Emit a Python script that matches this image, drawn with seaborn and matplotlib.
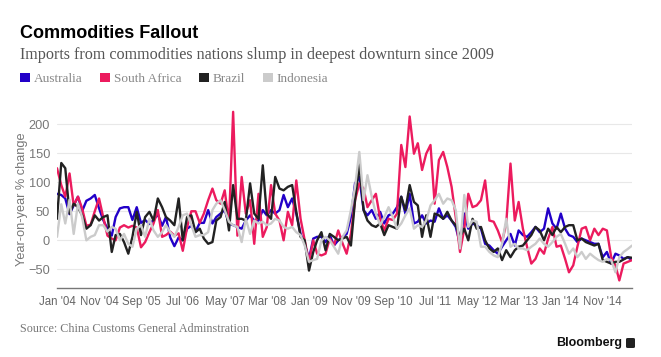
import numpy as np
import pandas as pd
import matplotlib.pyplot as plt
import matplotlib.patches as mpatches
import seaborn as sns

# monthly year-on-year % change of China's imports, Jan 2004 - Jun 2015
months = pd.date_range("2004-01-01", periods=138, freq="MS")

australia = [80, 78, 72, 45, 60, 75, 50, 68, 72, 78,
             55, 35, 20, 8, 40, 55, 57, 57, 35, 57,
             30, 35, 28, 35, 45, 25, 40, 5, -10, 5,
             0, 20, 25, 15, 30, 30, 52, 29, 40, 46,
             52, 29, 26, 23, 20, 34, 43, 34, 34, 52,
             43, 52, 46, 52, 78, 57, 72, 46, 11, -6,
             -32, 3, 6, 6, -3, 9, -9, 0, 6, 11,
             40, 98, 109, 52, 43, 52, 37, 49, 29, 43,
             46, 57, 75, 46, 80, 29, 32, 43, 29, 34,
             32, 55, 37, 43, 34, 23, -6, 46, 20, 29,
             26, 20, -6, -9, -17, -23, -11, 0, 11, -9,
             17, 9, 6, 14, 23, 14, 20, 55, 29, 20,
             46, 20, 9, 6, -3, 3, 0, -3, -6, -6,
             -29, -20, -40, -23, -26, -32, -29, -34]

south_africa = [124, 95, 75, 115, 60, 75, 55, 25, 27, 50,
                72, 40, 8, 3, 0, 22, 26, 22, 25, 22,
                -12, -3, 14, 29, 52, 6, 9, 15, 8, 12,
                -18, 22, 50, 50, 30, 46, 69, 89, 69, 63,
                86, 29, 221, 8, 109, 46, 69, -6, 80, 6,
                23, 95, 46, 34, 0, 49, 26, 103, 37, 0,
                -37, 0, -23, -26, -23, 3, -9, 17, -5, -23,
                11, 69, 98, 89, 57, 69, 80, 37, 17, 37,
                35, 46, 164, 126, 213, 149, 167, 121, 149, 164,
                63, 138, 152, 126, 92, 40, -20, 20, 80, 57,
                60, 69, 103, 34, 32, 17, -3, 29, 132, 34,
                66, 20, -11, -40, -32, -14, -23, 3, 23, -11,
                -9, -32, -55, -43, -11, 20, 23, 0, 20, 9,
                20, 17, -29, -43, -69, -40, -37, -34]

brazil = [37, 133, 124, 46, 63, 57, 43, 20, 26, 43,
          34, 40, 43, -20, 9, 11, -3, -23, 6, 49,
          9, 40, 49, 34, 72, 57, 40, 34, 26, 72,
          0, 40, 43, 14, 20, 3, -6, -3, 34, 40,
          66, 17, 95, 37, 37, 34, 98, 46, 37, 129,
          46, 37, 109, 89, 86, 92, 95, 49, 6, 0,
          -52, -20, 0, 14, -17, 11, 6, 0, 3, 6,
          -9, 69, 132, 52, 34, 26, 23, 29, 9, 26,
          23, 20, 75, 52, 95, 66, 60, 6, 43, 6,
          46, 43, 37, 49, 34, 26, 6, 20, 0, 37,
          20, 23, 0, -14, -20, -14, -34, -17, -29, -17,
          -11, -9, 0, 9, 23, 17, 0, 20, 9, 23,
          14, 23, 26, 26, 0, 3, -3, -6, -9, -6,
          -34, -37, -40, -37, -37, -33, -29, -30]

indonesia = [6, 62, 29, 70, 11, 63, 40, 0, 6, 9,
             26, 26, 15, 23, 20, 0, 11, -6, -11, 20,
             26, 6, 37, 17, 6, 14, 26, 14, 6, 23,
             43, 46, 26, 6, 9, 9, 14, 52, 63, 69,
             52, 32, 26, 23, -3, 37, 11, 34, 29, 32,
             26, 29, 37, 34, 23, 20, 23, 14, 9, -9,
             -37, -34, -32, 0, 6, 0, -11, -23, 6, 17,
             52, 92, 152, 69, 112, 75, 46, 26, 40, 57,
             40, 20, 29, 43, 55, 20, 26, 23, 34, 60,
             69, 80, 63, 72, 69, 52, -14, 78, 23, 34,
             32, -11, -11, -20, -26, -29, -6, 37, -11, -6,
             -14, -14, -17, -11, -6, 3, -6, -11, -3, 6,
             11, -6, -23, -14, -29, -20, -32, -23, -29, -34,
             -37, -32, -34, -55, -29, -20, -15, -9]

countries = ["Australia", "South Africa", "Brazil", "Indonesia"]
colors = ["#2200c8", "#ec1b5e", "#222222", "#cbcbcb"]

df = pd.DataFrame({"month": months, "Australia": australia,
                   "South Africa": south_africa, "Brazil": brazil,
                   "Indonesia": indonesia})
long = df.melt(id_vars="month", var_name="country", value_name="change")

sns.set_style("white")
plt.rcParams["font.family"] = ["Liberation Sans", "DejaVu Sans"]

fig = plt.figure(figsize=(6.61, 3.57), dpi=100)
ax = fig.add_axes([57 / 661, 1 - 288 / 357, (632 - 57) / 661, (288 - 109.5) / 357])

sns.lineplot(data=long, x="month", y="change", hue="country",
             hue_order=countries, palette=colors, linewidth=1.7,
             legend=False, ax=ax)

ax.set_xlim(months[0], months[-1])
ax.set_ylim(-82, 225)
ax.set_yticks([-50, 0, 50, 100, 150, 200])
ax.yaxis.grid(True, color="#e8e8e8", linewidth=0.8)
ax.set_axisbelow(True)
for s in ["top", "right", "left"]:
    ax.spines[s].set_visible(False)
ax.spines["bottom"].set_color("#777777")
ax.spines["bottom"].set_linewidth(1)

ticks = list(months[::10])
ax.set_xticks(ticks)
ax.set_xticklabels([d.strftime("%b '%y") for d in ticks])
ax.set_xticks([months[-1]], minor=True)
ax.tick_params(axis="x", which="both", direction="out", length=4, width=1,
               color="#777777", labelsize=8.3, labelcolor="#666666", pad=2)
ax.tick_params(axis="y", length=0, labelsize=9.2, labelcolor="#777777", pad=5)
ax.set_xlabel("")
ax.set_ylabel("")

fig.text(22.5 / 661, 1 - 199 / 357, "Year-on-year % change", rotation=90,
         ha="center", va="center", fontsize=9.2, color="#777777")

fig.text(20 / 661, 1 - 37.7 / 357, "Commodities Fallout", fontsize=13,
         fontweight="bold", color="#000000", va="baseline", ha="left")
fig.text(20 / 661, 1 - 59 / 357,
         "Imports from commodities nations slump in deepest downturn since 2009",
         fontsize=11.6, color="#555555", va="baseline", ha="left",
         family=["Liberation Serif", "DejaVu Serif"])

# legend: small squares with serif labels
leg_x = [20, 100.5, 199, 263]
for x0, name, c in zip(leg_x, countries, colors):
    fig.patches.append(mpatches.Rectangle((x0 / 661, 1 - 82 / 357), 10 / 661, 9 / 357,
                                          transform=fig.transFigure, facecolor=c,
                                          edgecolor="none"))
    fig.text((x0 + 13.5) / 661, 1 - 82.5 / 357, name, fontsize=9.5, color="#888888",
             va="baseline", ha="left", family=["Liberation Serif", "DejaVu Serif"])

fig.text(20 / 661, 1 - 329 / 357, "Source: China Customs General Adminstration",
         fontsize=8.7, color="#777777", va="center", ha="left",
         family=["Liberation Serif", "DejaVu Serif"])
fig.text(622 / 661, 1 - 343 / 357, "Bloomberg", fontsize=9, fontweight="bold",
         color="#111111", va="center", ha="right")
fig.patches.append(mpatches.FancyBboxPatch((626 / 661, 1 - 348 / 357), 9 / 661, 10 / 357,
                                           boxstyle="round,pad=0,rounding_size=0.003",
                                           transform=fig.transFigure,
                                           facecolor="#222222", edgecolor="none"))

fig.savefig("out.png", dpi=100, facecolor="white")
